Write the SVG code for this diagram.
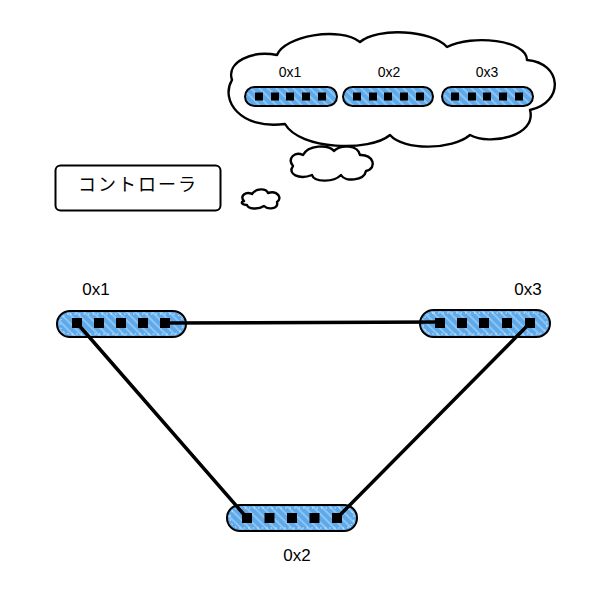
<svg xmlns="http://www.w3.org/2000/svg" width="600" height="600" viewBox="0 0 600 600">
<defs>
<pattern id="hatch" patternUnits="userSpaceOnUse" width="6" height="6" patternTransform="rotate(-45)">
<rect width="6" height="6" fill="#5ea9ea"/>
<rect width="2" height="6" fill="#8ec4f2"/>
</pattern>
<style>
.pill{fill:url(#hatch);stroke:#000;stroke-width:2}
.inner{fill:none;stroke:#fff;stroke-width:0.8;stroke-dasharray:1.5 3}
.port{fill:#000}
.cloud{fill:#fff;stroke:#000;stroke-width:2.4;stroke-linejoin:round}
.lbl{font-family:"Liberation Sans",Arial,sans-serif;font-size:17px;fill:#000;text-anchor:middle}
.slbl{font-family:"Liberation Sans",Arial,sans-serif;font-size:14px;fill:#000;text-anchor:middle}
.conn{stroke:#000;stroke-width:3.5;stroke-linecap:round;fill:none}
</style>
</defs>
<rect width="600" height="600" fill="#fff"/>

<g id="thought-cloud">
<path class="cloud" d="M 232,80 C 226,62 252,50 277,55 C 284,36 340,26 360,42 C 377,27 432,30 447,47 C 472,34 527,40 527,60 C 562,63 565,102 530,110 C 537,136 490,146 470,135 C 452,150 404,151 390,135 C 370,152 300,150 285,124 C 240,130 220,100 232,80 Z"/>
<text class="slbl" x="290" y="77">0x1</text>
<text class="slbl" x="389" y="77">0x2</text>
<text class="slbl" x="487" y="77">0x3</text>
<rect class="pill" x="245" y="87" width="92" height="19" rx="9.5"/>
<rect class="pill" x="343" y="87" width="90" height="19" rx="9.5"/>
<rect class="pill" x="442" y="87" width="91" height="19" rx="9.5"/>
<g class="port">
<rect x="255" y="92.5" width="8" height="8"/><rect x="271" y="92.5" width="8" height="8"/><rect x="286" y="92.5" width="8" height="8"/><rect x="302" y="92.5" width="8" height="8"/><rect x="318" y="92.5" width="8" height="8"/>
<rect x="353" y="92.5" width="8" height="8"/><rect x="369" y="92.5" width="8" height="8"/><rect x="384" y="92.5" width="8" height="8"/><rect x="400" y="92.5" width="8" height="8"/><rect x="416" y="92.5" width="8" height="8"/>
<rect x="451" y="92.5" width="8" height="8"/><rect x="468" y="92.5" width="8" height="8"/><rect x="483" y="92.5" width="8" height="8"/><rect x="499" y="92.5" width="8" height="8"/><rect x="515" y="92.5" width="8" height="8"/>
</g>
</g>

<g id="cloud-medium">
<path class="cloud" d="M 293,166 C 287,158 295,151 303,155 C 308,145 328,144 334,151 C 341,144 358,145 360,155 C 373,154 378,168 366,171 C 364,181 345,182 341,175 C 333,183 314,182 312,175 C 299,180 287,174 293,166 Z"/>
</g>
<g id="cloud-small">
<path class="cloud" stroke-width="1.8" d="M 244,201 C 239,196 246,191 252,194 C 256,188 266,188 268,193 C 277,190 283,198 277,202 C 279,209 268,210 264,206 C 258,210 248,209 247,205 C 242,205 240,202 244,201 Z"/>
</g>

<g id="controller">
<rect x="55.5" y="165.5" width="165" height="45" rx="5" fill="#fff" stroke="#000" stroke-width="2"/>
<text x="138" y="186" font-family="'Noto Sans CJK JP',sans-serif" font-size="18" letter-spacing="2" text-anchor="middle" dominant-baseline="middle">コントローラ</text>
</g>

<g id="switch-0x1">
<text class="lbl" x="96" y="295">0x1</text>
<rect class="pill" x="57" y="311" width="129" height="26" rx="13"/>
<rect class="inner" x="60" y="314" width="123" height="20" rx="10"/>
<g class="port"><rect x="72" y="318" width="10" height="10"/><rect x="94" y="318" width="10" height="10"/><rect x="116" y="318" width="10" height="10"/><rect x="138" y="318" width="10" height="10"/><rect x="160" y="318" width="10" height="10"/></g>
</g>

<g id="switch-0x3">
<text class="lbl" x="528" y="295">0x3</text>
<rect class="pill" x="420" y="310" width="130" height="27" rx="13.5"/>
<rect class="inner" x="423" y="313" width="124" height="21" rx="10.5"/>
<g class="port"><rect x="435" y="318" width="10" height="10"/><rect x="457" y="318" width="10" height="10"/><rect x="479" y="318" width="10" height="10"/><rect x="502" y="318" width="10" height="10"/><rect x="525" y="318" width="10" height="10"/></g>
</g>

<g id="switch-0x2">
<text class="lbl" x="297" y="561">0x2</text>
<rect class="pill" x="227" y="505" width="130" height="26" rx="13"/>
<rect class="inner" x="230" y="508" width="124" height="20" rx="10"/>
<g class="port"><rect x="242" y="513" width="10" height="10"/><rect x="264.5" y="513" width="10" height="10"/><rect x="287" y="513" width="10" height="10"/><rect x="309.5" y="513" width="10" height="10"/><rect x="332" y="513" width="10" height="10"/></g>
</g>

<g id="connectors">
<line class="conn" x1="165" y1="323" x2="440" y2="322"/>
<line class="conn" x1="77" y1="323" x2="247" y2="518"/>
<line class="conn" x1="530" y1="323" x2="337" y2="518"/>
</g>
</svg>
